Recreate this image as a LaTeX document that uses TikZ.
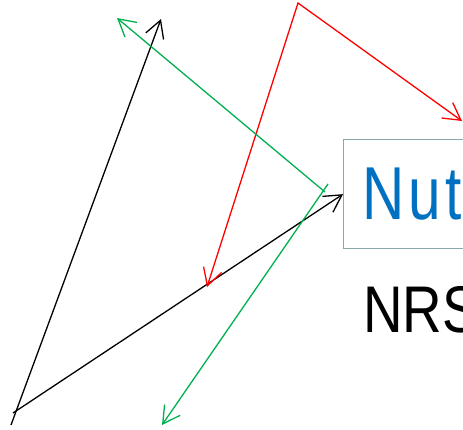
\documentclass[tikz,border=0pt]{standalone}
\usepackage{fontspec}
\setmainfont{Liberation Sans}
\newfontfamily\titlefont[FakeStretch=0.78, LetterSpace=6]{Liberation Sans}
\newfontfamily\bodyfont[FakeStretch=0.83]{Liberation Sans}
\usetikzlibrary{arrows.meta}
\definecolor{nutblue}{HTML}{0070C0}
\definecolor{leafgreen}{HTML}{00B050}
\definecolor{panelgray}{HTML}{8CA8AA}

\begin{document}
\begin{tikzpicture}[x=1pt, y=-1pt,
        barb/.tip={Straight Barb[length=17pt, width=19pt]},
        panel/.style={draw=panelgray, line width=1.3pt, anchor=north west,
            text width=204pt, align=left, inner xsep=18.5pt, minimum height=109pt,
            font=\titlefont\fontsize{75}{80}\selectfont, text=nutblue},
        caption/.style={anchor=base west, inner sep=0pt,
            font=\bodyfont\fontsize{66}{72}\selectfont},
        arrow/.style={-barb, line width=1.3pt},
        twoway/.style={barb-barb, line width=1.3pt},
    ]
    \useasboundingbox (0,0) rectangle (463,429);
    \clip (0,0) rectangle (463,429);
    \node[panel] (nut) at (343,139) {Nut};
    \node[caption] (nrs) at (362.9,332) {NRS};
    % black
    \coordinate (steepfoot) at (11,425);
    \coordinate (fork) at (13,413);
    \coordinate (blacktip) at (161,19);
    \draw[arrow] (steepfoot) -- (blacktip);
    \draw[arrow] (fork) -- (nut.west);
    % red
    \coordinate (redfoot) at (207,287);
    \coordinate (redapex) at (298,3);
    \coordinate (redtip) at (462,121);
    \draw[twoway, red] (redfoot) -- (redapex) -- (redtip);
    % green
    \coordinate (greenmid) at (325,192);
    \coordinate (greentop) at (117,18);
    \coordinate (greenknot) at (328,184);
    \coordinate (greenfoot) at (162,425);
    \draw[arrow, leafgreen] (greenmid) -- (greentop);
    \draw[arrow, leafgreen] (greenknot) -- (greenfoot);
\end{tikzpicture}
\end{document}
